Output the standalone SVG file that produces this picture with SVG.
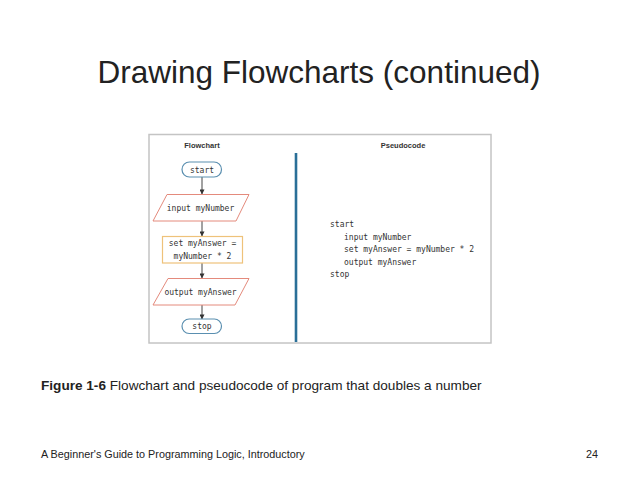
<svg xmlns="http://www.w3.org/2000/svg" width="638" height="479" viewBox="0 0 638 479">
  <style>
    .title { font-family: "Liberation Sans", Arial, sans-serif; font-size: 31.5px; fill: #222; }
    .cap { font-family: "Liberation Sans", Arial, sans-serif; font-size: 13.6px; fill: #222; }
    .foot { font-family: "Liberation Sans", Arial, sans-serif; font-size: 10.8px; fill: #222; }
    .head { font-family: "Liberation Sans", Arial, sans-serif; font-size: 7.5px; font-weight: bold; fill: #333; }
    .code { font-family: "DejaVu Sans Mono", "Liberation Mono", monospace; font-size: 8px; fill: #333; }
    .term { fill: #fff; stroke: #5a8fb0; stroke-width: 1.2; }
    .io { fill: #fff; stroke: #e48a7c; stroke-width: 1; }
    .proc { fill: #fff; stroke: #eec27a; stroke-width: 1.2; }
    .conn { stroke: #444; stroke-width: 1; fill: none; }
  </style>
  <defs>
    <marker id="arr" viewBox="0 0 6 6" refX="5.5" refY="3" markerWidth="5" markerHeight="5" orient="auto" markerUnits="userSpaceOnUse">
      <path d="M0,0 L6,3 L0,6 Z" fill="#333"/>
    </marker>
  </defs>
  <rect width="638" height="479" fill="#fff"/>

  <text class="title" x="319" y="83" text-anchor="middle">Drawing Flowcharts (continued)</text>

  <g id="figure">
    <rect x="149" y="134.5" width="342" height="208.5" fill="#fff" stroke="#c4c4c4" stroke-width="1.5"/>
    <text class="head" x="202" y="147.5" text-anchor="middle">Flowchart</text>
    <text class="head" x="403" y="147.5" text-anchor="middle">Pseudocode</text>
    <line x1="296" y1="153" x2="296" y2="342" stroke="#2a6f98" stroke-width="2.6"/>
  </g>

  <g id="connectors">
    <line class="conn" x1="202" y1="177" x2="202" y2="194" marker-end="url(#arr)"/>
    <line class="conn" x1="202" y1="221" x2="202" y2="236" marker-end="url(#arr)"/>
    <line class="conn" x1="202" y1="263" x2="202" y2="278" marker-end="url(#arr)"/>
    <line class="conn" x1="202" y1="305" x2="202" y2="319" marker-end="url(#arr)"/>
  </g>

  <g id="start">
    <rect class="term" x="182" y="162" width="39.5" height="15" rx="7.5"/>
    <text class="code" x="202" y="172.5" text-anchor="middle">start</text>
  </g>

  <g id="input">
    <polygon class="io" points="167,194.5 249,194.5 236,221 153,221"/>
    <text class="code" x="200.5" y="210.5" text-anchor="middle">input myNumber</text>
  </g>

  <g id="set">
    <rect class="proc" x="162.5" y="236.5" width="80" height="26.5"/>
    <text class="code" x="202.5" y="246" text-anchor="middle">set myAnswer =</text>
    <text class="code" x="202.5" y="258.5" text-anchor="middle">myNumber * 2</text>
  </g>

  <g id="output">
    <polygon class="io" points="168,278.5 249,278.5 235,305 153,305"/>
    <text class="code" x="200.5" y="294.5" text-anchor="middle">output myAnswer</text>
  </g>

  <g id="stop">
    <rect class="term" x="182" y="319" width="39.5" height="14.5" rx="7.2"/>
    <text class="code" x="202" y="329.2" text-anchor="middle">stop</text>
  </g>

  <g id="pseudocode">
    <text class="code" x="330" y="227">start</text>
    <text class="code" x="344" y="239.5">input myNumber</text>
    <text class="code" x="344" y="252">set myAnswer = myNumber * 2</text>
    <text class="code" x="344" y="264.5">output myAnswer</text>
    <text class="code" x="330" y="277">stop</text>
  </g>

  <text class="cap" x="41" y="390"><tspan font-weight="bold">Figure 1-6</tspan> Flowchart and pseudocode of program that doubles a number</text>

  <text class="foot" x="41" y="458">A Beginner's Guide to Programming Logic, Introductory</text>
  <text class="foot" x="598" y="458" text-anchor="end">24</text>
</svg>
